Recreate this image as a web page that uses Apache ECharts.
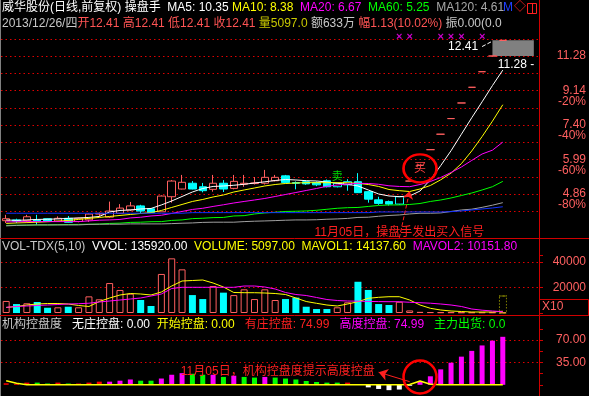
<!DOCTYPE html>
<html>
<head>
<meta charset="utf-8">
<script src="https://cdn.jsdelivr.net/npm/echarts@6/dist/echarts.min.js"></script>
<style>
html,body{margin:0;padding:0;background:#000;overflow:hidden;}
#chart{width:589px;height:396px;}
</style>
</head>
<body>
<div id="chart"></div>
<script>
// ================= DATA =================
const categories = Array.from({length: 52}, (_, i) => String(i + 1));

const open  = [4.13,4.15,4.13,4.15,4.18,4.12,4.19,4.11,4.15,4.30, 4.22,4.32,4.41,4.52,4.44,4.36,4.78,5.01,5.19,5.08, 5.00,5.19,5.03,5.16,5.18,5.19,5.27,5.43,5.21,5.24, 5.21,5.27,5.08,5.14,5.24,4.93,4.69,4.64,4.57, 5.26,5.79,6.37,7.00,7.70,8.47,9.32,10.25,11.28,12.41];
const close = [4.18,4.12,4.23,4.12,4.12,4.19,4.09,4.19,4.30,4.32, 4.38,4.46,4.52,4.38,4.34,4.80,5.26,5.22,5.01,4.96, 5.19,5.01,5.25,5.19,5.20,5.38,5.38,5.21,5.19,5.17, 5.14,5.08,5.19,5.24,4.90,4.71,4.59,4.57,4.78, 5.26,5.79,6.37,7.00,7.70,8.47,9.32,10.25,11.28,12.41];
const low   = [4.07,4.07,4.09,4.03,4.11,4.10,4.08,4.09,4.10,4.23, 4.20,4.30,4.38,4.32,4.33,4.36,4.61,5.00,5.00,4.91, 4.93,4.92,5.00,5.08,5.15,5.15,5.25,5.19,5.00,5.14, 5.10,5.06,5.06,4.96,4.89,4.61,4.55,4.53,4.55, 5.26,5.79,6.37,7.00,7.70,8.47,9.32,10.25,11.28,12.41];
const high  = [4.28,4.18,4.28,4.28,4.19,4.24,4.25,4.21,4.32,4.34, 4.64,4.57,4.63,4.55,4.46,4.82,5.29,5.46,5.26,5.20, 5.46,5.29,5.46,5.46,5.39,5.63,5.46,5.46,5.25,5.28, 5.25,5.31,5.21,5.32,5.52,4.95,4.78,4.67,4.80, 5.26,5.79,6.37,7.00,7.70,8.47,9.32,10.25,11.28,12.41];

const ma5   = [4.149,4.137,4.149,4.162,4.167,4.175,4.188,4.200,4.213,4.238, 4.356,4.396,4.409,4.436,4.450,4.546,4.658,4.787,4.920,5.027, 5.089,5.104,5.126,5.157,5.198,5.236,5.278,5.310,5.294,5.272, 5.262,5.230,5.188,5.157,5.104,4.981,4.861,4.802,4.782, 4.802,4.950,5.30,5.78,6.33,7.00,7.74,8.53,9.42,10.35];
const ma10  = [4.062,4.074,4.082,4.092,4.104,4.117,4.137,4.162,4.188,4.213, 4.238,4.264,4.290,4.317,4.338,4.396,4.477,4.560,4.644,4.701, 4.773,4.831,4.920,4.981,5.042,5.104,5.150,5.182,5.198,5.208, 5.208,5.208,5.208,5.208,5.188,5.150,5.089,4.996,4.960, 4.935,5.011,5.120,5.30,5.52,5.85,6.32,6.90,7.58,8.38];
const ma20  = [4.099,4.104,4.107,4.107,4.107,4.107,4.107,4.107,4.124,4.142, 4.149,4.162,4.200,4.218,4.251,4.269,4.317,4.369,4.423,4.455, 4.505,4.551,4.601,4.644,4.686,4.730,4.787,4.846,4.905,4.966, 5.027,5.095,5.135,5.166,5.188,5.182,5.157,5.110,5.089, 5.082,5.150,5.246,5.376,5.542,5.731,5.965,6.204,6.35,6.67];
const ma60  = [4.013,4.018,4.020,4.025,4.025,4.030,4.035,4.037,4.042,4.045, 4.062,4.069,4.087,4.092,4.104,4.107,4.137,4.149,4.182,4.192, 4.208,4.213,4.251,4.259,4.303,4.330,4.348,4.369,4.375,4.383, 4.401,4.428,4.455,4.471,4.477,4.505,4.532,4.546,4.546, 4.560,4.587,4.644,4.686,4.744,4.816,4.890,4.981,5.082,5.25];
const ma120 = [4.001,4.013,4.020,4.025,4.025,4.025,4.025,4.025,4.037,4.042, 4.042,4.042,4.050,4.050,4.050,4.050,4.057,4.067,4.074,4.087, 4.092,4.092,4.092,4.107,4.117,4.124,4.132,4.142,4.149,4.149, 4.154,4.167,4.175,4.188,4.213,4.218,4.243,4.264,4.277, 4.303,4.322,4.322,4.330,4.369,4.409,4.43,4.48,4.54,4.61];
const ma250 = [4.322,4.322,4.322,4.322,4.322,4.322,4.322,4.322,4.322,4.322, 4.322,4.322,4.322,4.322,4.322,4.322,4.322,4.322,4.338,4.338, 4.338,4.338,4.338,4.338,4.338,4.338,4.338,4.338,4.338,4.338, 4.338,4.338,4.338,4.338,4.338,4.338,4.356,4.356,4.356, 4.356,4.356,4.356,4.356,4.364,4.383,4.409,4.436,4.463,4.496];

const volume = [9400,7000,7600,8600,4100,4450,4900,4450,13000,10700, 23400,18000,15100,10150,5470,30500,42700,34100,14000,10900, 21100,15900,14000,18500,10900,18500,10150,10900,12000,4900, 3100,3100,4450,8350,24400,18000,7000,6250,8800, 2000,900,700,600,600,500,500,500,500,510];
const mavol1 = [4300,5080,6250,7030,7420,7420,7030,5860,5080,8980, 11720,14060,15230,14840,14060,16400,21090,24990,25380,25770, 23430,20310,16010,15850,15850,15620,15230,14450,11720,8980, 7580,6250,5470,7030,8830,11480,12260,12730,12730, 10150,6250,3670,2340,1560,1170,780,780,780,1414];
const mavol2 = [4450,5080,5470,5860,6250,6640,7030,7260,7650,8590, 9370,10150,10930,11720,13280,14840,19140,20070,20070,20070, 20070,20070,20070,21090,21090,20310,18740,16010,14450,13670, 12110,10540,9760,9370,9220,9060,8900,8830,8830, 8360,8040,7650,7030,6250,5080,3120,2190,1560,1015];

const N = null;
const youZhuang = [2.4,1.5,3.4,N,N,3.4,N,2.0,3.4,4.9, N,N,N,N,N,N,N,N,N,N, N,N,N,N,N,N,N,N,N,N, N,N,N,3.4,N,N,N,N,N, N,N,N,N,N,N,N,N,N,N];
const gaoDu     = [N,N,N,N,N,N,N,N,N,N, 4.9,6.4,8.3,N,N,9.8,15.7,18.2,N,N, 15.7,N,14.2,N,N,12.3,N,N,N,N, N,N,N,N,N,N,N,N,N, N,4.9,13.3,24.1,34.5,44.0,53.0,61.5,69.0,74.99];
const chuHuo    = [N,N,N,3.4,2.0,N,2.0,N,N,N, N,N,N,6.4,6.4,N,N,N,17.2,15.7, N,12.3,N,12.3,11.3,N,11.3,9.8,8.3,5.9, 4.4,3.4,3.4,N,1.0,N,N,N,N, N,N,N,N,N,N,N,N,N,N];
const wuZhuang  = [N,N,N,N,N,N,N,N,N,N, N,N,N,N,N,N,N,N,N,N, N,N,N,N,N,N,N,N,N,N, N,N,N,N,N,-4.0,-6.5,-8.4,-7.4, -1.5,N,N,N,N,N,N,N,N,N];
const kaiShi    = [6.3,2.4,0,0,0,0,0,0,0,0, 0,0,0,0,0,0,0,0,0,0, 0,0,0,0,0,0,0,0,0,0, 0,0,0,0,0,0,0,0,0, 0.5,5.9,1.0,0,0,0,0,0,0,0];

const priceGrid       = [12.533,11.28,10.152,9.137,8.223,7.401,6.661,5.995,5.395,4.856,4.370];
const priceTickLabels = ['','11.28','','9.14','','7.40','','5.99','','4.86',''];
const pctTickLabels   = ['','','','-20%','','-40%','','-60%','','-80%',''];
const signalIdx = [38,39,42,43,44,46];
const signalLevel = 12.65;

// ================= STYLE =================
const FONT = "'Liberation Sans', 'Noto Sans CJK SC', sans-serif";
const UP = '#ff5f5f', DOWN = '#00ffff', GRIDC = '#e00000', AXT = '#ff6060';
const DOT = [1.5, 3];
const cyanHollow = [32, 33, 38];
function rs(color){ return {color: color, fontSize: 12, fontFamily: FONT, fontWeight: 'normal'}; }
const rich = {w: rs('#ffffff'), t: rs('#c8c8c8'), y: rs('#ffff00'), m: rs('#ff00ff'), g: rs('#00ff00'),
  s: rs('#a8a8a8'), b: rs('#2040ff'), r: rs('#ff5454'), o: rs('#c8c800'), R: rs('#ff2020')};
function hdr(text, top, width){
  return {left: 2, top: top, text: text, padding: 0,
    textStyle: {fontSize: 12, fontFamily: FONT, fontWeight: 'normal', color: '#ffffff', rich: rich, width: width, overflow: 'truncate', ellipsis: ''}};
}

const candleData = open.map((o, i) => {
  const v = [o, close[i], low[i], high[i]];
  if (cyanHollow.includes(i)) return {value: v, itemStyle: {color: '#000', borderColor: DOWN}};
  return v;
});
function isUp(i){
  if (close[i] > open[i]) return true;
  if (close[i] < open[i]) return false;
  return i === 0 || close[i] >= close[i - 1];
}
const volData = volume.map((v, i) => ({value: v,
  itemStyle: isUp(i) ? {color: '#000', borderColor: UP, borderWidth: 1} : {color: DOWN}}));

const gridMarkLines = priceGrid.map((v, k) => {
  const txt = priceTickLabels[k] ? (pctTickLabels[k] ? priceTickLabels[k] + '\n' + pctTickLabels[k] : priceTickLabels[k]) : '';
  return {yAxis: v, label: {show: !!txt, formatter: txt, position: 'end', distance: 47, align: 'right',
    color: AXT, fontSize: 12, fontFamily: FONT, lineHeight: 11, offset: [0, pctTickLabels[k] ? 5.5 : 0]}};
});

function maLine(data, color){
  return {type: 'line', xAxisIndex: 0, yAxisIndex: 0, data: data, symbol: 'none', smooth: false,
    lineStyle: {color: color, width: 1}, silent: true};
}

const option = {
  backgroundColor: '#000000',
  animation: false,
  title: [
    hdr('{w|威华股份(日线,前复权) 操盘手}  {w|MA5: 10.35} {y|MA10: 8.38}  {m|MA20: 6.67}  {g|MA60: 5.25}  {s|MA120: 4.61}', 2, 507),
    hdr('{t|2013/12/26/四}{r|开12.41} {r|高12.41} {r|低12.41} {r|收12.41} {o|量5097.0} {t|额633万} {r|幅1.13(10.02%)} {t|振0.00(0.00%)}', 18, 506),
    hdr('{t|VOL-TDX(5,10)}  {w|VVOL: 135920.00}  {y|VOLUME: 5097.00}  {y|MAVOL1: 14137.60}  {m|MAVOL2: 10151.80}', 241, 536),
    hdr('{t|机构控盘度}   {w|无庄控盘: 0.00}  {y|开始控盘: 0.00}   {R|有庄控盘: 74.99}   {m|高度控盘: 74.99}   {g|主力出货: 0.00}', 319, 506)
  ],
  grid: [
    {left: 1, top: 32, width: 538, height: 206},
    {left: 1, top: 255.4, width: 538, height: 57.6},
    {left: 1, top: 328.8, width: 538, height: 71.4}
  ],
  xAxis: [0, 1, 2].map(g => ({type: 'category', gridIndex: g, data: categories, boundaryGap: true, show: false})),
  yAxis: [
    {type: 'log', logBase: 10, gridIndex: 0, position: 'right', min: 3.716, max: 13.06,
      axisLine: {show: false}, axisTick: {show: false}, axisLabel: {show: false}, splitLine: {show: false}},
    {type: 'value', gridIndex: 1, position: 'right', min: 0, max: 45000, interval: 20000,
      axisLine: {show: false}, axisTick: {show: true, length: 4, lineStyle: {color: '#d00000'}},
      axisLabel: {color: AXT, fontSize: 12, fontFamily: FONT, align: 'right', margin: 47,
        formatter: v => (v > 0 && v % 20000 === 0) ? String(v) : ''},
      splitLine: {show: true, showMinLine: false, showMaxLine: false, lineStyle: {color: GRIDC, type: DOT, width: 1}}},
    {type: 'value', gridIndex: 2, position: 'right', min: -17.5, max: 87.5, interval: 17.5,
      axisLine: {show: false}, axisTick: {show: true, length: 4, lineStyle: {color: '#d00000'}},
      axisLabel: {color: AXT, fontSize: 12, fontFamily: FONT, align: 'right', margin: 47,
        formatter: v => (Math.abs(v - 35) < 0.01 || Math.abs(v - 70) < 0.01) ? v.toFixed(2) : ''},
      splitLine: {show: false}}
  ],
  series: [
    {type: 'candlestick', xAxisIndex: 0, yAxisIndex: 0, data: candleData, barWidth: 8,
      itemStyle: {color: '#000', color0: DOWN, borderColor: UP, borderColor0: DOWN, borderColorDoji: UP, borderWidth: 1},
      markLine: {silent: true, z: 1, symbol: ['none', 'none'], lineStyle: {color: GRIDC, type: DOT, width: 1}, data: gridMarkLines},
      markArea: {silent: true, itemStyle: {color: '#808080'}, data: [[{coord: [47, 12.41]}, {coord: [51, 11.28]}]]},
      markPoint: {silent: true, data: [
        {coord: [40, 5.68], symbol: 'circle', symbolSize: [33, 28],
          itemStyle: {color: 'rgba(0,0,0,0)', borderColor: '#ff0000', borderWidth: 2.5},
          label: {show: true, formatter: '买', position: 'inside', color: '#ff4040', fontSize: 12, fontFamily: FONT}},
        {coord: [38, 3.85], symbol: 'circle', symbolSize: 0,
          label: {show: true, formatter: '11月05日，操盘手发出买入信号', position: 'inside', color: '#ff2020', fontSize: 12, fontFamily: FONT}},
        {coord: [46, 11.92], symbol: 'circle', symbolSize: 0,
          label: {show: true, formatter: '12.41', position: 'left', distance: 4, color: '#ffffff', fontSize: 12, fontFamily: FONT}},
        {coord: [48, 10.68], symbol: 'circle', symbolSize: 0,
          label: {show: true, formatter: '11.28 -', position: 'right', distance: 0, offset: [-5, 0], color: '#ffffff', fontSize: 12, fontFamily: FONT}},
        {coord: [32, 5.39], symbol: 'circle', symbolSize: 0,
          label: {show: true, formatter: '卖', position: 'inside', color: '#00e000', fontSize: 11, fontFamily: FONT}}
      ]}
    },
    Object.assign(maLine(ma5, '#ffffff'), {
      markLine: {silent: true, symbol: ['none', 'none'], symbolSize: 8, label: {show: false},
        data: [
          [{coord: [38, 3.72], symbol: 'none'}, {coord: [39, 4.95], symbol: 'arrow', lineStyle: {color: '#ff2020', width: 1}}],
          [{coord: [46, 11.95], symbol: 'none'}, {coord: [47, 12.35], symbol: 'none', lineStyle: {color: '#ffffff', width: 1}}]
        ]}
    }),
    maLine(ma10, '#ffff00'),
    maLine(ma20, '#ff00ff'),
    maLine(ma60, '#00ff00'),
    maLine(ma120, '#a0a0a0'),
    maLine(ma250, '#1030ff'),
    {type: 'scatter', xAxisIndex: 0, yAxisIndex: 0, data: signalIdx.map(i => [i, signalLevel]),
      symbol: 'circle', symbolSize: 1, itemStyle: {color: 'rgba(0,0,0,0)'}, silent: true,
      label: {show: true, formatter: '×', position: 'inside', color: '#ff00ff', fontSize: 11, fontWeight: 'bold', fontFamily: FONT}},

    {type: 'bar', xAxisIndex: 1, yAxisIndex: 1, data: volData, barWidth: 7, silent: true,
      markPoint: {silent: true, data: [{coord: [48, 6650], symbol: 'rect', symbolSize: [7, 17],
        itemStyle: {color: 'rgba(0,0,0,0)', borderColor: '#c8c800', borderWidth: 1, borderType: 'dotted'}, label: {show: false}}]}},
    {type: 'line', xAxisIndex: 1, yAxisIndex: 1, data: mavol1, symbol: 'none', lineStyle: {color: '#ffff00', width: 1}, silent: true},
    {type: 'line', xAxisIndex: 1, yAxisIndex: 1, data: mavol2, symbol: 'none', lineStyle: {color: '#ff00ff', width: 1}, silent: true},

    {type: 'bar', xAxisIndex: 2, yAxisIndex: 2, data: youZhuang, barWidth: 5, barGap: '-100%', itemStyle: {color: '#ff0000'}, silent: true,
      markLine: {silent: true, z: 1, symbol: ['none', 'none'], label: {show: false}, lineStyle: {color: GRIDC, type: DOT, width: 1},
        data: [{yAxis: 35}, {yAxis: 70}]}},
    {type: 'bar', xAxisIndex: 2, yAxisIndex: 2, data: gaoDu, barWidth: 5, barGap: '-100%', itemStyle: {color: '#ff00ff'}, silent: true,
      markPoint: {silent: true, data: [
        {coord: [40, 12.3], symbol: 'circle', symbolSize: 33,
          itemStyle: {color: 'rgba(0,0,0,0)', borderColor: '#ff0000', borderWidth: 2.5}, label: {show: false}},
        {coord: [36, 20.5], symbol: 'circle', symbolSize: 0,
          label: {show: true, formatter: '11月05日，机构控盘度提示高度控盘', position: 'left', distance: 4, color: '#ff2020', fontSize: 12, fontFamily: FONT}}
      ]},
      markLine: {silent: true, symbol: ['none', 'none'], symbolSize: 9, label: {show: false}, lineStyle: {color: '#ff2020', width: 1, type: 'solid'},
        data: [[{coord: [39, 4.9], symbol: 'none'}, {coord: [36, 19.6], symbol: 'arrow'}]]}},
    {type: 'bar', xAxisIndex: 2, yAxisIndex: 2, data: chuHuo, barWidth: 5, barGap: '-100%', itemStyle: {color: '#00ff00'}, silent: true},
    {type: 'bar', xAxisIndex: 2, yAxisIndex: 2, data: wuZhuang, barWidth: 5, barGap: '-100%', itemStyle: {color: '#ffffff'}, silent: true},
    {type: 'line', xAxisIndex: 2, yAxisIndex: 2, data: kaiShi, symbol: 'none', lineStyle: {color: '#ffff00', width: 1.5}, silent: true, z: 3}
  ],
  graphic: [
    {type: 'line', shape: {x1: 0.5, y1: 0, x2: 0.5, y2: 396}, style: {stroke: '#808080', lineWidth: 1}, z: 100},
    {type: 'line', shape: {x1: 539.5, y1: 0, x2: 539.5, y2: 396}, style: {stroke: '#d00000', lineWidth: 1}, z: 100},
    {type: 'line', shape: {x1: 0, y1: 238.5, x2: 589, y2: 238.5}, style: {stroke: '#d00000', lineWidth: 1}, z: 100},
    {type: 'line', shape: {x1: 0, y1: 315.5, x2: 589, y2: 315.5}, style: {stroke: '#d00000', lineWidth: 1}, z: 100},
    {type: 'rect', shape: {x: 539.5, y: 299.5, width: 49, height: 16}, style: {fill: 'none', stroke: '#d00000', lineWidth: 1}, z: 100},
    {type: 'text', x: 542, y: 301, style: {text: 'X10', fill: AXT, font: '12px ' + FONT}, z: 100},
    {type: 'text', x: 503, y: 2, style: {text: 'M', fill: '#2040ff', font: '12px ' + FONT}, z: 100},
    {type: 'text', x: 514, y: 2, style: {text: '◇', fill: '#ff2020', font: '12px ' + FONT}, z: 100},
    {type: 'rect', shape: {x: 527.5, y: 3.5, width: 9, height: 10}, style: {fill: 'none', stroke: '#ff2020', lineWidth: 1}, z: 100},
    {type: 'line', shape: {x1: 532.5, y1: 3.5, x2: 532.5, y2: 13.5}, style: {stroke: '#ff2020', lineWidth: 1}, z: 100}
  ]
};

const chart = echarts.init(document.getElementById('chart'), null, {renderer: 'canvas'});
chart.setOption(option);
</script>
</body>
</html>
